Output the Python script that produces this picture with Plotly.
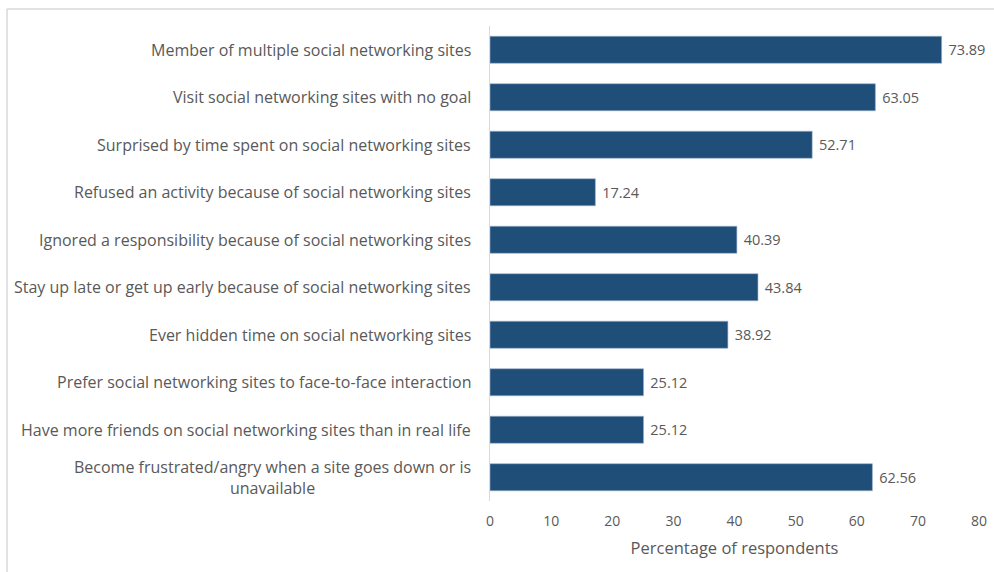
import plotly.graph_objects as go

# Survey items (top to bottom) and share of respondents (%)
items = [
    "Member of multiple social networking sites",
    "Visit social networking sites with no goal",
    "Surprised by time spent on social networking sites",
    "Refused an activity because of social networking sites",
    "Ignored a responsibility because of social networking sites",
    "Stay up late or get up early because of social networking sites",
    "Ever hidden time on social networking sites",
    "Prefer social networking sites to face-to-face interaction",
    "Have more friends on social networking sites than in real life",
    "Become frustrated/angry when a site goes down or is<br>unavailable",
]
percent = [73.89, 63.05, 52.71, 17.24, 40.39, 43.84, 38.92, 25.12, 25.12, 62.56]
x_ticks = [0, 10, 20, 30, 40, 50, 60, 70, 80]

FONT = "Open Sans"
GREY = "#595959"
BAR = "#1F4E79"

W, H = 994, 572
ML, MR, MT, MB = 490, 15, 26, 71

fig = go.Figure(
    go.Bar(
        x=percent,
        y=items,
        orientation="h",
        marker=dict(color=BAR, line=dict(color="#9fb4cc", width=0.6)),
        text=[f" {v:.2f}" for v in percent],
        textposition="outside",
        textfont=dict(family=FONT, size=14.5, color=GREY),
        cliponaxis=False,
        width=0.57,
    )
)

# Category labels drawn as annotations so wrapped lines stay centred
pw, ph = W - ML - MR, H - MT - MB
for name in items:
    fig.add_annotation(
        x=-17 / pw, xref="paper", xanchor="right",
        y=name, yref="y", yanchor="middle",
        text=name, showarrow=False, align="center",
        font=dict(family=FONT, size=16, color=GREY),
    )

# Light frame around the chart area
def px_x(p):
    return (p - ML) / pw
def px_y(p):
    return (H - MB - p) / ph
fig.add_shape(type="line", xref="paper", yref="paper",
              x0=px_x(7), x1=px_x(7), y0=px_y(9), y1=px_y(600),
              line=dict(color="#d9d9d9", width=1.5))
fig.add_shape(type="line", xref="paper", yref="paper",
              x0=px_x(7), x1=px_x(1000), y0=px_y(9), y1=px_y(9),
              line=dict(color="#d9d9d9", width=1.5))

fig.update_layout(
    width=W, height=H,
    margin=dict(l=ML, r=MR, t=MT, b=MB),
    paper_bgcolor="white", plot_bgcolor="white",
    showlegend=False,
    font=dict(family=FONT, color=GREY),
    xaxis=dict(
        range=[0, 80], tickvals=x_ticks, showgrid=False, zeroline=False,
        showline=False, ticks="", ticklabelstandoff=10,
        tickfont=dict(family=FONT, size=14, color=GREY),
        title=dict(text="Percentage of respondents",
                   font=dict(family=FONT, size=16.5, color=GREY), standoff=13),
        automargin=False,
    ),
    yaxis=dict(
        autorange="reversed", showticklabels=False, showgrid=False,
        zeroline=False, showline=True, linecolor="#d9d9d9", linewidth=1,
        ticks="", automargin=False,
    ),
)

fig.write_html("out.html")
